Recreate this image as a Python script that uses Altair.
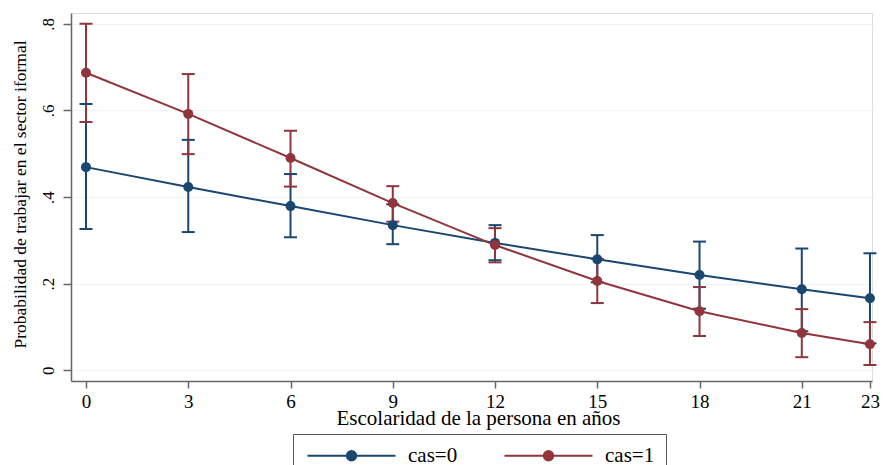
import math
import altair as alt
import pandas as pd

# --- data ---
escolaridad = [0, 3, 6, 9, 12, 15, 18, 21, 23]
series_names = ["cas=0", "cas=1"]

cas0 = [0.469, 0.423, 0.379, 0.335, 0.294, 0.256, 0.220, 0.187, 0.166]
cas0_lo = [0.326, 0.319, 0.307, 0.291, 0.254, 0.203, 0.142, 0.090, 0.062]
cas0_hi = [0.615, 0.532, 0.453, 0.383, 0.335, 0.312, 0.297, 0.281, 0.270]

cas1 = [0.687, 0.592, 0.490, 0.386, 0.289, 0.206, 0.136, 0.086, 0.060]
cas1_lo = [0.573, 0.499, 0.424, 0.343, 0.249, 0.155, 0.079, 0.030, 0.012]
cas1_hi = [0.800, 0.684, 0.553, 0.425, 0.328, 0.257, 0.192, 0.141, 0.111]

y_ticks = [0, 0.2, 0.4, 0.6, 0.8]

rows = []
for name, p, lo, hi in [("cas=0", cas0, cas0_lo, cas0_hi), ("cas=1", cas1, cas1_lo, cas1_hi)]:
    for i, x in enumerate(escolaridad):
        rows.append({"serie": name, "x": x, "p": p[i], "lo": lo[i], "hi": hi[i]})
df = pd.DataFrame(rows)

NAVY = "#1a476f"
MAROON = "#90353b"
FONT = "Liberation Serif"
AXIS_GRAY = "#666666"

xscale = alt.Scale(domain=[-0.44, 23.06], nice=False, zero=False)
yscale = alt.Scale(domain=[-0.025, 0.825], nice=False, zero=False)

xaxis = alt.Axis(
    values=escolaridad,
    title="Escolaridad de la persona en años",
    titleFont=FONT, titleFontSize=21, titleFontWeight="normal", titleColor="black",
    titleBaseline="alphabetic", titleY=43, titleX=407, titleAlign="center",
    labelFont=FONT, labelFontSize=19, labelColor="black", labelPadding=4,
    tickSize=7, tickColor=AXIS_GRAY, tickWidth=1.5,
    domainColor=AXIS_GRAY, domainWidth=1.5, grid=False,
)
yaxis = alt.Axis(
    values=y_ticks,
    labelExpr="datum.value == 0 ? '0' : replace(format(datum.value, '.1f'), '0.', '.')",
    title="Probabilidad de trabajar en el sector iformal",
    titleFont=FONT, titleFontSize=17.5, titleFontWeight="normal", titleColor="black",
    titleX=-51, titleY=181, titleBaseline="middle", titleAlign="center",
    labelFont=FONT, labelFontSize=17, labelColor="black",
    labelAngle=270, labelAlign="center", labelBaseline="alphabetic", labelPadding=10,
    tickSize=8, tickColor=AXIS_GRAY, tickWidth=1.5,
    domainColor=AXIS_GRAY, domainWidth=1.5,
    grid=True, gridColor="#f0f3f4", gridWidth=1,
)

# legend symbol: a line with a dot in the middle (polygonal circle)
cx, r = 6.167, 0.8
circle = "M" + "L".join(
    f"{cx + r * math.cos(2 * math.pi * k / 16):.3f},{r * math.sin(2 * math.pi * k / 16):.3f}"
    for k in range(16)) + "Z"
symbol_path = "M-1.167,0L13.5,0" + circle

legend = alt.Legend(
    title=None, orient="none", legendX=222, legendY=421, direction="horizontal",
    symbolType=symbol_path, symbolSize=144, symbolStrokeWidth=1.8,
    labelFont=FONT, labelFontSize=21, labelColor="black", labelOffset=83,
    columnPadding=42, padding=11, strokeColor="#555555", fillColor="white",
)

pal = alt.Scale(domain=series_names, range=[NAVY, MAROON])
color = alt.Color("serie:N", scale=pal, legend=legend)

X = alt.X("x:Q", scale=xscale, axis=xaxis)
base = alt.Chart(df)

rules = base.mark_rule(strokeWidth=2, opacity=1).encode(
    x=X, y=alt.Y("lo:Q", scale=yscale, axis=yaxis), y2="hi:Q", color=color)
caps_lo = base.mark_tick(orient="horizontal", size=13, thickness=2, opacity=1).encode(
    x=X, y=alt.Y("lo:Q", scale=yscale, axis=yaxis), color=color)
caps_hi = base.mark_tick(orient="horizontal", size=13, thickness=2, opacity=1).encode(
    x=X, y=alt.Y("hi:Q", scale=yscale, axis=yaxis), color=color)
lines = base.mark_line(strokeWidth=2, opacity=1).encode(
    x=X, y=alt.Y("p:Q", scale=yscale, axis=yaxis), color=color)
points = base.mark_circle(size=100, opacity=1).encode(
    x=X, y=alt.Y("p:Q", scale=yscale, axis=yaxis), color=color)

chart = alt.layer(rules, caps_lo, caps_hi, lines, points).properties(
    width=801, height=368,
    autosize=alt.AutoSizeParams(type="none"),
    padding={"left": 63, "top": 5, "right": 8, "bottom": 84},
    background="white",
).configure_view(stroke=None).configure(font=FONT).configure_legend(
    labelFont=FONT, labelFontSize=21
)

chart.save("out.html", embed_options={"renderer": "svg", "actions": False})
